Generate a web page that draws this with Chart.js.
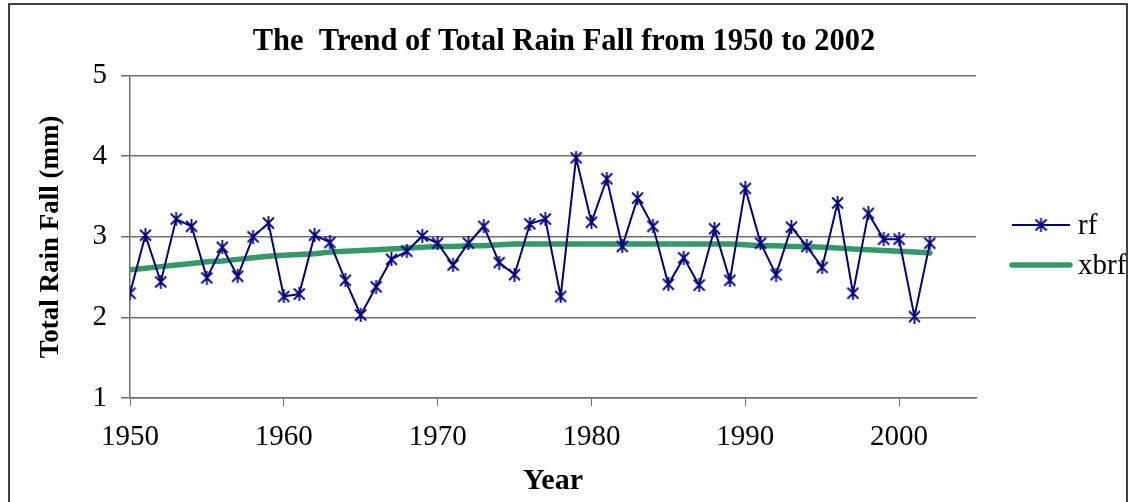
<!DOCTYPE html>
<html lang="en">
<head>
<meta charset="UTF-8">
<title>Rain Fall Trend</title>
<style>
    body { margin: 0; background: #fff; overflow: hidden; }
    #wrap { position: relative; width: 1128px; height: 502px; }
    #frame { position: absolute; left: 8px; top: 3px; width: 1116px; height: 520px;
             border: 2px solid #404040; pointer-events: none; }
</style>
</head>
<body>
<div id="wrap">
    <canvas id="rainChart" width="1128" height="502"></canvas>
    <div id="frame"></div>
</div>
<script src="https://cdn.jsdelivr.net/npm/chart.js"></script>
<script>
    // values
    const years = [1950, 1951, 1952, 1953, 1954, 1955, 1956, 1957, 1958, 1959,
                   1960, 1961, 1962, 1963, 1964, 1965, 1966, 1967, 1968, 1969,
                   1970, 1971, 1972, 1973, 1974, 1975, 1976, 1977, 1978, 1979,
                   1980, 1981, 1982, 1983, 1984, 1985, 1986, 1987, 1988, 1989,
                   1990, 1991, 1992, 1993, 1994, 1995, 1996, 1997, 1998, 1999,
                   2000, 2001, 2002];
    const rf = [2.30, 3.02, 2.44, 3.22, 3.13, 2.49, 2.87, 2.51, 3.00, 3.17,
                2.26, 2.29, 3.02, 2.93, 2.46, 2.03, 2.38, 2.72, 2.82, 3.01,
                2.92, 2.65, 2.92, 3.13, 2.68, 2.53, 3.16, 3.22, 2.26, 3.98,
                3.18, 3.72, 2.88, 3.48, 3.13, 2.41, 2.74, 2.40, 3.10, 2.46,
                3.60, 2.92, 2.53, 3.12, 2.88, 2.62, 3.42, 2.30, 3.29, 2.97,
                2.97, 2.01, 2.92];
    const xbrf = [2.59, 2.61, 2.63, 2.65, 2.67, 2.69, 2.70, 2.72, 2.74, 2.76,
                  2.77, 2.78, 2.79, 2.81, 2.82, 2.83, 2.84, 2.85, 2.86, 2.87,
                  2.88, 2.88, 2.89, 2.89, 2.90, 2.91, 2.91, 2.91, 2.91, 2.91,
                  2.91, 2.91, 2.91, 2.91, 2.91, 2.91, 2.91, 2.91, 2.91, 2.91,
                  2.90, 2.89, 2.89, 2.88, 2.88, 2.87, 2.86, 2.85, 2.84, 2.83,
                  2.82, 2.81, 2.80];
    const seriesNames = ['rf', 'xbrf'];
    const chartTitle = 'The  Trend of Total Rain Fall from 1950 to 2002';
    const xTitle = 'Year';
    const yTitle = 'Total Rain Fall (mm)';

    const navy = '#000080';
    const green = '#339966';
    const axisGray = '#6e6e6e';
    const serif = "'Liberation Serif', 'Times New Roman', serif";

    // asterisk marker like the excel "star" (X plus a vertical bar)
    function makeStar() {
        const c = document.createElement('canvas');
        c.width = 13;
        c.height = 14;
        const g = c.getContext('2d');
        g.strokeStyle = navy;
        g.lineWidth = 1.8;
        g.beginPath();
        g.moveTo(1, 1.5); g.lineTo(12, 12.5);
        g.moveTo(12, 1.5); g.lineTo(1, 12.5);
        g.moveTo(6.5, 0); g.lineTo(6.5, 14);
        g.stroke();
        return c;
    }
    const star = makeStar();

    // simple legend at the right, like the original
    const sideLegend = {
        id: 'sideLegend',
        afterDraw(chart) {
            const ctx = chart.ctx;
            const rows = [225, 265];
            ctx.save();
            chart.data.datasets.forEach((ds, i) => {
                const y = rows[i];
                ctx.strokeStyle = ds.borderColor;
                ctx.lineWidth = ds.borderWidth;
                ctx.lineCap = ds.borderCapStyle || 'butt';
                ctx.beginPath();
                ctx.moveTo(1012, y);
                ctx.lineTo(1070, y);
                ctx.stroke();
                if (ds.pointRadius > 0) {
                    ctx.drawImage(star, 1041 - star.width / 2, y - star.height / 2);
                }
                ctx.fillStyle = '#000';
                ctx.font = '29px ' + serif;
                ctx.textBaseline = 'middle';
                ctx.fillText(ds.label, 1078, y + 1);
            });
            ctx.restore();
        }
    };

    let rainChart;

    function makeChart() {
        const ctx = document.getElementById('rainChart');
        rainChart = new Chart(ctx, {
            type: 'line',
            data: {
                datasets: [{
                    label: seriesNames[0],
                    data: years.map((yr, i) => ({ x: yr, y: rf[i] })),
                    borderColor: navy,
                    backgroundColor: navy,
                    borderWidth: 2,
                    pointStyle: star,
                    pointRadius: 6,
                    pointHoverRadius: 6,
                    tension: 0
                }, {
                    label: seriesNames[1],
                    data: years.map((yr, i) => ({ x: yr, y: xbrf[i] })),
                    borderColor: green,
                    backgroundColor: green,
                    borderWidth: 5.5,
                    borderCapStyle: 'round',
                    borderJoinStyle: 'round',
                    pointRadius: 0,
                    tension: 0
                }]
            },
            options: {
                responsive: false,
                animation: false,
                layout: { padding: 0 },
                plugins: {
                    legend: { display: false },
                    tooltip: { enabled: false },
                    title: {
                        display: true,
                        text: chartTitle,
                        color: '#000',
                        font: { family: serif, size: 30.5, weight: 'bold' },
                        padding: { top: 24, bottom: 15 }
                    }
                },
                scales: {
                    x: {
                        type: 'linear',
                        min: 1950,
                        max: 2005,
                        afterFit: (s) => { s.height = 104; s.paddingRight = 152; },
                        ticks: {
                            stepSize: 10,
                            includeBounds: false,
                            maxRotation: 0,
                            padding: 14,
                            color: '#000',
                            font: { family: serif, size: 29 },
                            callback: (v) => String(v)
                        },
                        grid: {
                            drawOnChartArea: false,
                            drawTicks: true,
                            tickLength: 8,
                            color: axisGray
                        },
                        border: { color: axisGray, width: 1.5 },
                        title: {
                            display: true,
                            text: xTitle,
                            color: '#000',
                            font: { family: serif, size: 30, weight: 'bold' },
                            padding: { top: 0, bottom: 3 }
                        }
                    },
                    y: {
                        min: 1,
                        max: 5,
                        afterFit: (s) => { s.width = 130; },
                        ticks: {
                            stepSize: 1,
                            padding: 14,
                            color: '#000',
                            font: { family: serif, size: 29 }
                        },
                        grid: {
                            drawTicks: true,
                            tickLength: 9,
                            color: axisGray,
                            lineWidth: 1.5
                        },
                        border: { color: axisGray, width: 1.5 },
                        title: {
                            display: true,
                            text: yTitle,
                            color: '#000',
                            font: { family: serif, size: 27, weight: 'bold' },
                            padding: { top: 35, bottom: 0 }
                        }
                    }
                }
            },
            plugins: [sideLegend]
        });
    }

    makeChart();
</script>
</body>
</html>
